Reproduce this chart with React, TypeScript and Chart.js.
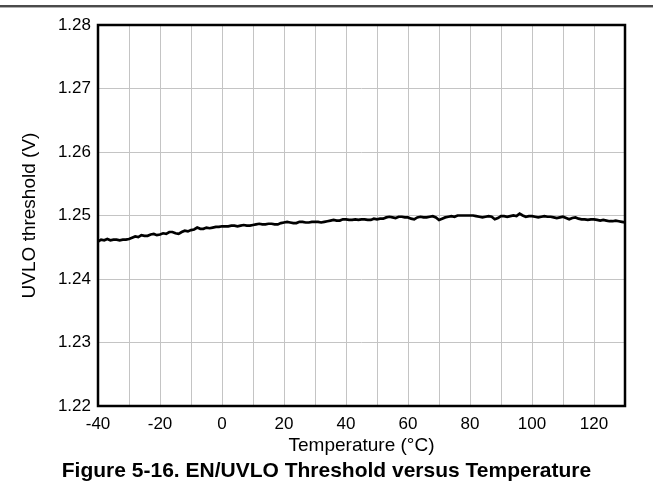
import React, { useEffect, useRef } from "react";
import { Chart, registerables } from "chart.js";

Chart.register(...registerables);

const temperatures = [
  -40, -39, -38, -37, -36, -35, -34, -33, -32, -31, -30, -29, -28, -27, -26, -25, -24, -23, -22, -21,
  -20, -19, -18, -17, -16, -15, -14, -13, -12, -11, -10, -9, -8, -7, -6, -5, -4, -3, -2, -1,
  0, 1, 2, 3, 4, 5, 6, 7, 8, 9, 10, 11, 12, 13, 14, 15, 16, 17, 18, 19,
  20, 21, 22, 23, 24, 25, 26, 27, 28, 29, 30, 31, 32, 33, 34, 35, 36, 37, 38, 39,
  40, 41, 42, 43, 44, 45, 46, 47, 48, 49, 50, 51, 52, 53, 54, 55, 56, 57, 58, 59,
  60, 61, 62, 63, 64, 65, 66, 67, 68, 69, 70, 71, 72, 73, 74, 75, 76, 77, 78, 79,
  80, 81, 82, 83, 84, 85, 86, 87, 88, 89, 90, 91, 92, 93, 94, 95, 96, 97, 98, 99,
  100, 101, 102, 103, 104, 105, 106, 107, 108, 109, 110, 111, 112, 113, 114, 115, 116, 117, 118, 119,
  120, 121, 122, 123, 124, 125, 126, 127, 128, 129, 130,
];

const uvloThreshold = [
  1.2459, 1.2462, 1.2461, 1.2463, 1.2461, 1.2462, 1.2462, 1.2461, 1.2462, 1.2462,
  1.2463, 1.2465, 1.2467, 1.2466, 1.2469, 1.2468, 1.2468, 1.247, 1.2471, 1.2469,
  1.247, 1.2472, 1.2471, 1.2474, 1.2474, 1.2472, 1.2471, 1.2474, 1.2476, 1.2475,
  1.2477, 1.2478, 1.2481, 1.2479, 1.2479, 1.2481, 1.248, 1.2481, 1.2482, 1.2482,
  1.2483, 1.2483, 1.2483, 1.2484, 1.2484, 1.2483, 1.2484, 1.2485, 1.2484, 1.2484,
  1.2485, 1.2486, 1.2487, 1.2486, 1.2486, 1.2487, 1.2487, 1.2486, 1.2486, 1.2488,
  1.2489, 1.249, 1.2489, 1.2488, 1.2488, 1.249, 1.249, 1.2489, 1.2489, 1.249,
  1.249, 1.249, 1.2489, 1.249, 1.2491, 1.2492, 1.2493, 1.2492, 1.2492, 1.2494,
  1.2494, 1.2493, 1.2493, 1.2494, 1.2493, 1.2494, 1.2494, 1.2493, 1.2493, 1.2495,
  1.2494, 1.2495, 1.2495, 1.2497, 1.2498, 1.2497, 1.2496, 1.2498, 1.2498, 1.2497,
  1.2497, 1.2495, 1.2494, 1.2497, 1.2498, 1.2497, 1.2497, 1.2498, 1.2499, 1.2497,
  1.2493, 1.2495, 1.2497, 1.2498, 1.2499, 1.2498, 1.25, 1.25, 1.25, 1.25,
  1.25, 1.25, 1.2499, 1.2498, 1.2497, 1.2498, 1.2499, 1.2498, 1.2494, 1.2496,
  1.2499, 1.2499, 1.2498, 1.2499, 1.25, 1.2499, 1.2503, 1.25, 1.2498, 1.2499,
  1.2499, 1.2498, 1.2497, 1.2498, 1.2499, 1.2498, 1.2498, 1.2497, 1.2496, 1.2497,
  1.2498, 1.2496, 1.2494, 1.2496, 1.2497, 1.2495, 1.2494, 1.2494, 1.2493, 1.2494,
  1.2494, 1.2493, 1.2492, 1.2493, 1.2492, 1.2491, 1.2491, 1.2492, 1.2491, 1.249,
  1.2489,
];

const xMin = -40;
const xMax = 130;
const xStep = 10;
const yMin = 1.22;
const yMax = 1.28;
const yStep = 0.01;

const xTitle = "Temperature (°C)";
const yTitle = "UVLO threshold (V)";
const caption = "Figure 5-16. EN/UVLO Threshold versus Temperature";

const FONT = "'Liberation Sans', Arial, sans-serif";

const frameBox = {
  id: "frameBox",
  afterDatasetsDraw(chart: any) {
    const { ctx, chartArea } = chart;
    ctx.save();
    ctx.strokeStyle = "#000";
    ctx.lineWidth = 2.5;
    ctx.strokeRect(chartArea.left, chartArea.top, chartArea.right - chartArea.left, chartArea.bottom - chartArea.top);
    ctx.restore();
  },
};

export default function App() {
  const ref = useRef<HTMLCanvasElement | null>(null);

  useEffect(() => {
    document.body.style.margin = "0";
    if (!ref.current) return;
    const chart = new Chart(ref.current, {
      type: "line",
      data: {
        datasets: [
          {
            data: temperatures.map((t, i) => ({ x: t, y: uvloThreshold[i] })),
            borderColor: "#000",
            borderWidth: 2.7,
            pointRadius: 0,
            tension: 0,
          },
        ],
      },
      options: {
        responsive: false,
        animation: false,
        layout: { padding: { top: 25, right: 28, left: 0, bottom: 32 } },
        plugins: { legend: { display: false }, tooltip: { enabled: false } },
        scales: {
          x: {
            type: "linear",
            min: xMin,
            max: xMax,
            afterFit: (s: any) => {
              s.height = 60;
            },
            ticks: {
              stepSize: xStep,
              color: "#000",
              font: { family: FONT, size: 17 },
              padding: 8,
              maxRotation: 0,
              autoSkip: false,
              callback: (v: any) => (Number(v) % 20 === 0 && Number(v) <= 120 ? String(v) : ""),
            },
            grid: { color: "#c4c4c4", lineWidth: 1, drawTicks: false },
            border: { display: false },
            title: {
              display: true,
              text: xTitle,
              color: "#000",
              font: { family: FONT, size: 19 },
              padding: { top: 2, bottom: 9 },
            },
          },
          y: {
            min: yMin,
            max: yMax,
            afterFit: (s: any) => {
              s.width = 98;
            },
            ticks: {
              stepSize: yStep,
              color: "#000",
              font: { family: FONT, size: 17 },
              padding: 7,
              callback: (v: any) => Number(v).toFixed(2),
            },
            grid: { color: "#c4c4c4", lineWidth: 1, drawTicks: false },
            border: { display: false },
            title: {
              display: true,
              text: yTitle,
              color: "#000",
              font: { family: FONT, size: 19 },
              padding: { top: 18, bottom: 0 },
            },
          },
        },
      },
      plugins: [frameBox],
    });
    return () => chart.destroy();
  }, []);

  return (
    <div style={{ position: "relative", width: 653, height: 498, background: "#fff", overflow: "hidden" }}>
      <div style={{ position: "absolute", left: 0, top: 5, width: 653, height: 2, background: "#4a4a4a" }} />
      <div style={{ position: "absolute", left: 0, top: 7, width: 653, height: 1, background: "#b0b0b0" }} />
      <canvas ref={ref} width={653} height={498} style={{ position: "absolute", left: 0, top: 0 }} />
      <div
        style={{
          position: "absolute",
          left: 0,
          width: 653,
          top: 458,
          textAlign: "center",
          fontFamily: FONT,
          fontWeight: "bold",
          fontSize: 21,
          color: "#000",
          paddingRight: 2,
        }}
      >
        {caption}
      </div>
    </div>
  );
}
